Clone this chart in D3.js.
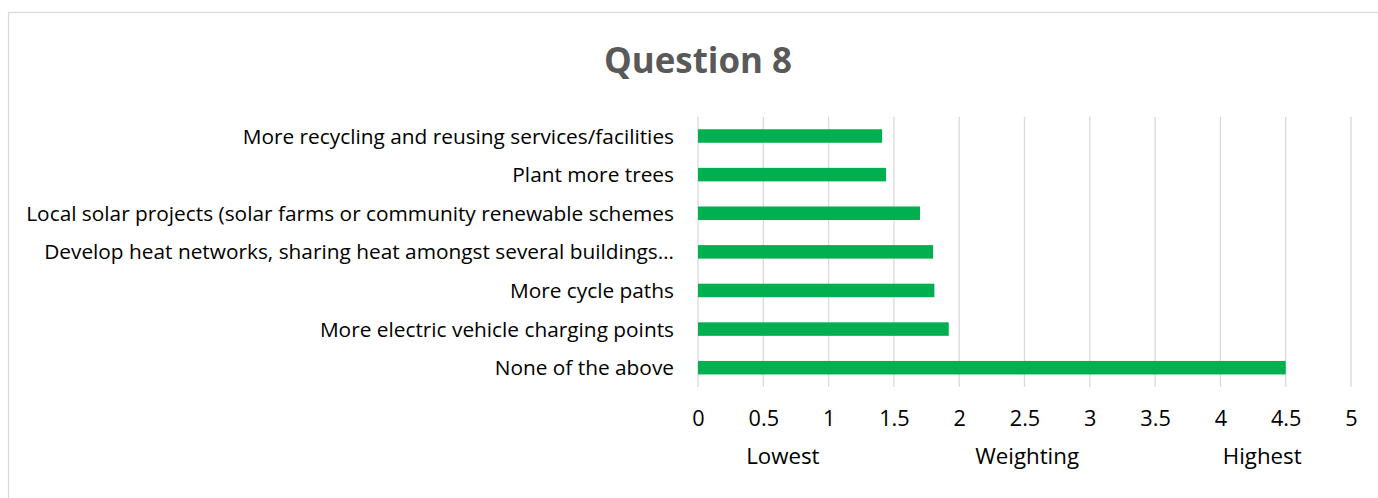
<!DOCTYPE html>
<html>
<head>
<meta charset="utf-8">
<script src="https://cdn.jsdelivr.net/npm/d3@7"></script>
<style>
  body { margin: 0; background: #fff; }
  svg { display: block; font-family: "Open Sans", "Noto Sans", sans-serif; }
</style>
</head>
<body>
<div id="chart"></div>
<script>
// data (top to bottom)
var categories = [
  "More recycling and reusing services/facilities",
  "Plant more trees",
  "Local solar projects (solar farms or community renewable schemes",
  "Develop heat networks, sharing heat amongst several buildings\u2026",
  "More cycle paths",
  "More electric vehicle charging points",
  "None of the above"
];
var values = [1.41, 1.44, 1.70, 1.80, 1.81, 1.92, 4.50];
var xTicks = [0, 0.5, 1, 1.5, 2, 2.5, 3, 3.5, 4, 4.5, 5];
var axisTitles = ["Lowest", "Weighting", "Highest"];
var axisTitlePos = [0.65, 2.52, 4.32];   // in axis units
var chartTitle = "Question 8";

var width = 1378, height = 498;
var plot = {left: 698, right: 1351, top: 116.7, bottom: 387};

var svg = d3.select("#chart").append("svg")
    .attr("width", width)
    .attr("height", height);

// outer chart border (cropped on right/bottom)
svg.append("rect")
    .attr("x", 8.5)
    .attr("y", 12.5)
    .attr("width", width + 20)
    .attr("height", height + 20)
    .attr("fill", "#fff")
    .attr("stroke", "#d9d9d9")
    .attr("stroke-width", 1.2);

var x = d3.scaleLinear()
    .domain([0, 5])
    .range([plot.left, plot.right]);

var y = d3.scaleBand()
    .domain(categories)
    .range([plot.top, plot.bottom])
    .paddingInner(0.65)
    .paddingOuter(0.325);

// shrink/grow font so the widest string matches a target width
function fitFont(sel, base, target) {
  sel.style("font-size", base + "px");
  var w = 0;
  sel.each(function() { w = Math.max(w, this.getComputedTextLength()); });
  var fs = base * target / w;
  sel.style("font-size", fs + "px");
  return fs;
}

///////// gridlines

svg.append("g")
    .selectAll("line")
    .data(xTicks)
  .enter().append("line")
    .attr("x1", function(d) { return x(d); })
    .attr("x2", function(d) { return x(d); })
    .attr("y1", plot.top)
    .attr("y2", plot.bottom)
    .attr("stroke", "#d9d9d9")
    .attr("stroke-width", 1.3);

///////// bars

svg.append("g")
    .selectAll("rect")
    .data(values)
  .enter().append("rect")
    .attr("x", x(0))
    .attr("y", function(d, i) { return y(categories[i]); })
    .attr("width", function(d) { return x(d) - x(0); })
    .attr("height", y.bandwidth())
    .attr("fill", "#00b050");

///////// axes

var gY = svg.append("g")
    .attr("transform", "translate(" + plot.left + ",0)")
    .call(d3.axisLeft(y).tickSize(0).tickPadding(24));
gY.attr("font-family", null);
gY.select(".domain").remove();
gY.selectAll("text")
    .attr("fill", "#000")
    .attr("dy", "0.36em");
var labelSize = fitFont(gY.selectAll("text"), 20, 648);

var gX = svg.append("g")
    .attr("transform", "translate(0," + plot.bottom + ")")
    .call(d3.axisBottom(x).tickValues(xTicks).tickSize(0).tickPadding(0)
      .tickFormat(d3.format("~g")));
gX.attr("font-family", null);
gX.select(".domain").remove();
gX.selectAll("text")
    .attr("fill", "#000")
    .attr("dy", null)
    .attr("y", 39)
    .style("font-size", (labelSize * 1.04) + "px");

// axis title
svg.append("g")
    .selectAll("text")
    .data(axisTitles)
  .enter().append("text")
    .attr("x", function(d, i) { return x(axisTitlePos[i]); })
    .attr("y", 464)
    .attr("text-anchor", "middle")
    .attr("fill", "#000")
    .style("font-size", (labelSize * 1.07) + "px")
    .text(function(d) { return d; });

// chart title
var title = svg.append("text")
    .attr("x", 698)
    .attr("y", 73)
    .attr("text-anchor", "middle")
    .attr("fill", "#595959")
    .attr("font-weight", "bold")
    .text(chartTitle);
fitFont(title, 36, 188);
</script>
</body>
</html>
